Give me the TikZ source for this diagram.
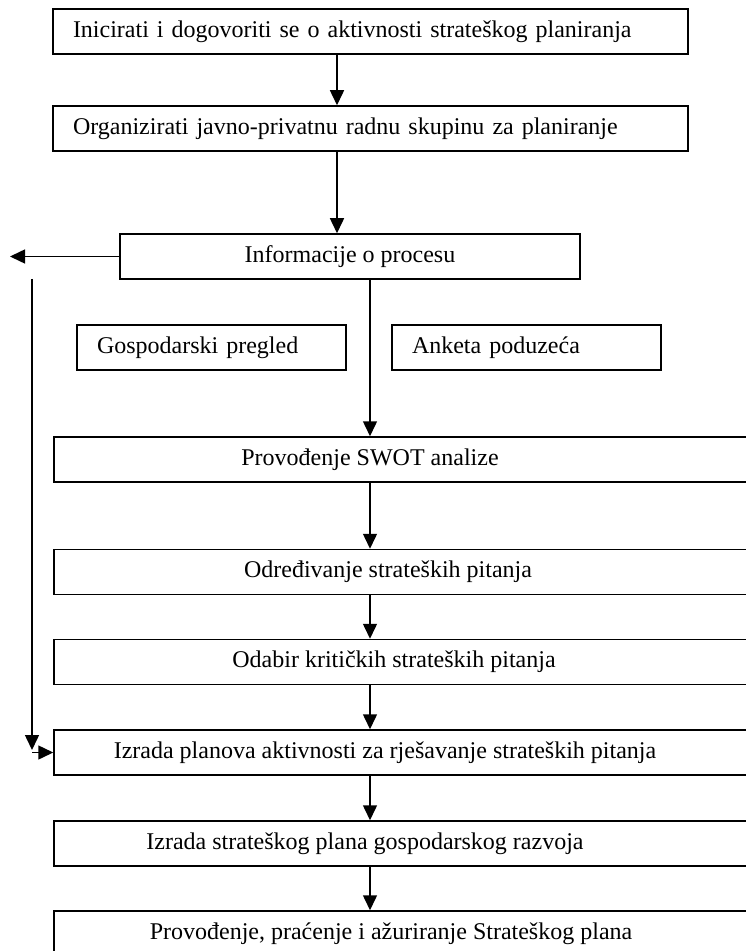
\documentclass[tikz,border=0pt]{standalone}
\usepackage{fontspec}
\setmainfont{Liberation Serif}
\usetikzlibrary{arrows.meta}
\tikzset{
        flownode/.style = {rectangle, inner sep=0pt, font=\fontsize{12}{14}\selectfont},
        flow_box/.style = {flownode, draw=black, line width=0.75pt,
            minimum height=22.5pt},
        flow_left/.style = {flow_box, align=left, inner xsep=10pt},
        flow_wide/.style = {flow_box, minimum width=358pt},
        flow_txt/.style = {flownode}
    }

\begin{document}
\begin{tikzpicture}[x=0.5pt, y=-0.5pt, ->, >={Triangle[length=7.5pt,width=7pt]},
            line width=0.75pt]
            \useasboundingbox (0,0) rectangle (745,951);
            \coordinate (axis_a) at (337,0);
            \coordinate (axis_b) at (370,0);
            % top
            \node [flow_left, text width=297.5pt] (init) at (370.5,31.5)
                {Inicirati i dogovoriti se o aktivnosti strateškog planiranja};
            \node [flow_left, text width=297.5pt] (org) at (370.5,128.5)
                {Organizirati javno-privatnu radnu skupinu za planiranje};
            \node [flow_box, minimum width=230pt] (info) at (350,256.5)
                {Informacije o procesu};
            \node [flow_left, text width=114.5pt] (gosp) at (211.5,347.5)
                {Gospodarski pregled};
            \node [flow_left, text width=114.5pt] (anketa) at (526.5,347.5)
                {Anketa poduzeća};
            % wide boxes
            \node [flow_wide] (swot) at (412,459.5) {};
            \node [flow_txt] (swot_t) at (370,459.5) {Provođenje SWOT analize};
            \node [flow_wide] (odred) at (412,572) {};
            \node [flow_txt] (odred_t) at (388,572) {Određivanje strateških pitanja};
            \node [flow_wide] (odab) at (412,662) {};
            \node [flow_txt] (odab_t) at (394,662) {Odabir kritičkih strateških pitanja};
            \node [flow_wide] (plan) at (412,752.5) {};
            \node [flow_txt] (plan_t) at (385,752.5)
                {Izrada planova aktivnosti za rješavanje strateških pitanja};
            \node [flow_wide] (strat) at (412,843.5) {};
            \node [flow_txt] (strat_t) at (365,843.5)
                {Izrada strateškog plana gospodarskog razvoja};
            \node [flow_wide] (prov) at (412,933.5) {};
            \node [flow_txt] (prov_t) at (391,933.5)
                {Provođenje, praćenje i ažuriranje Strateškog plana};
            % arrows
            \draw (init.south -| axis_a) -- (org.north -| axis_a);
            \draw (org.south -| axis_a) -- (info.north -| axis_a);
            \draw (info.south -| axis_b) -- (swot.north -| axis_b);
            \draw (swot.south -| axis_b) -- (odred.north -| axis_b);
            \draw (odred.south -| axis_b) -- (odab.north -| axis_b);
            \draw (odab.south -| axis_b) -- (plan.north -| axis_b);
            \draw (plan.south -| axis_b) -- (strat.north -| axis_b);
            \draw (strat.south -| axis_b) -- (prov.north -| axis_b);
            % side loop
            \coordinate (side_out) at (10,256.5);
            \coordinate (loop_top) at (32,279);
            \coordinate (loop_bot) at (32,750);
            \coordinate (loop_in) at (32,752.5);
            \draw (info.west) -- (side_out);
            \draw (loop_top) -- (loop_bot);
            \draw (loop_in) -- (plan.west);
\end{tikzpicture}
\end{document}
